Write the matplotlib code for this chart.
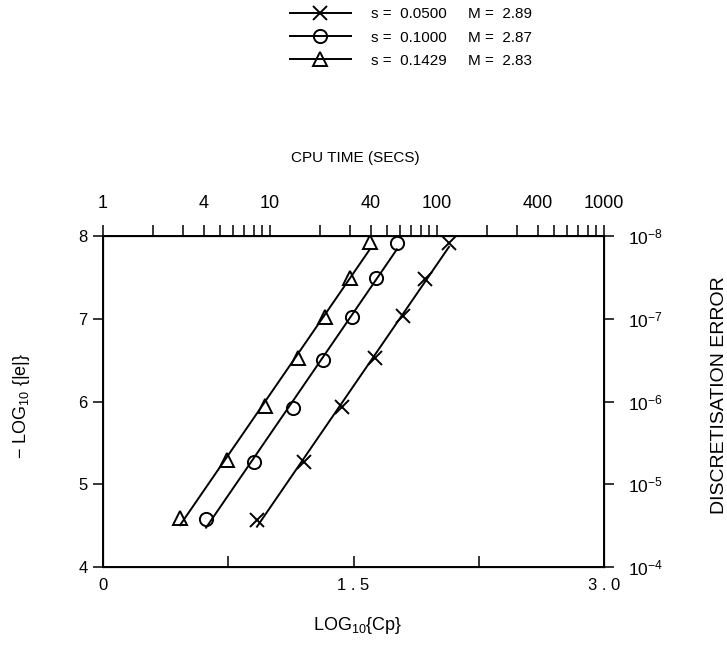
import numpy as np
import matplotlib
matplotlib.use('Agg')
from matplotlib import pyplot as plt
from matplotlib.lines import Line2D
from matplotlib.ticker import FixedLocator, LogLocator, NullFormatter

plt.rcParams['font.family'] = ['Liberation Sans', 'DejaVu Sans']
plt.rcParams['mathtext.fontset'] = 'custom'
plt.rcParams['mathtext.rm'] = 'Liberation Sans'
plt.rcParams['mathtext.it'] = 'Liberation Sans'

########################################################################
# Data: LOG10(Cp) against -LOG10(|e|) for three values of s
########################################################################

s_values = ['0.0500', '0.1000', '0.1429']
m_values = ['2.89', '2.87', '2.83']

logcp_s1 = [0.922, 1.204, 1.431, 1.629, 1.796, 1.928, 2.072]
err_s1 = [4.57, 5.27, 5.93, 6.53, 7.03, 7.48, 7.92]

logcp_s2 = [0.617, 0.904, 1.138, 1.317, 1.491, 1.635, 1.760]
err_s2 = [4.58, 5.27, 5.92, 6.50, 7.02, 7.49, 7.92]

logcp_s3 = [0.461, 0.743, 0.970, 1.168, 1.329, 1.479, 1.599]
err_s3 = [4.59, 5.29, 5.95, 6.53, 7.02, 7.49, 7.93]

cpu_ticks = [1, 4, 10, 40, 100, 400, 1000]
bottom_ticks = [0, 0.75, 1.5, 2.25, 3.0]
bottom_labels = ['0', '', '1 . 5', '', '3 . 0']
left_ticks = [4, 5, 6, 7, 8]
right_labels = [r'$10^{-4}$', r'$10^{-5}$', r'$10^{-6}$', r'$10^{-7}$', r'$10^{-8}$']

series = [
    (logcp_s1, err_s1, 'x', 10),
    (logcp_s2, err_s2, 'o', 9.5),
    (logcp_s3, err_s3, '^', 10),
]

########################################################################
# Plot
########################################################################

fig = plt.figure(figsize=(7.27, 6.47), dpi=100)
ax = fig.add_axes([0.1417, 0.1236, 0.6891, 0.5116])

handles = []
labels = []
for (xs, ys, mk, ms), s, m in zip(series, s_values, m_values):
    xs = np.array(xs)
    ys = np.array(ys)
    # straight line fitted through the points
    k, b = np.polyfit(xs, ys, 1)
    xl = np.array([xs.min(), xs.max()])
    ax.plot(xl, k * xl + b, color='black', lw=1.4)
    ax.plot(xs, ys, linestyle='none', marker=mk, ms=ms, mfc='none',
            mec='black', mew=1.4)
    handles.append(Line2D([], [], color='black', lw=1.4, marker=mk, ms=ms,
                          mfc='none', mec='black', mew=1.4))
    labels.append('s =  ' + s + '     M =  ' + m)

ax.set_xlim(0, 3)
ax.set_ylim(4, 8)
ax.set_xticks(bottom_ticks)
ax.set_xticklabels(bottom_labels)
ax.set_yticks(left_ticks)
ax.tick_params(axis='x', direction='in', length=8, width=1.1, labelsize=12, pad=8)
ax.tick_params(axis='y', direction='out', length=7, width=1.1, labelsize=12, pad=4)
for sp in ax.spines.values():
    sp.set_linewidth(1.4)

# top axis: CPU time on a log scale
ax_top = ax.twiny()
ax_top.set_xscale('log')
ax_top.set_xlim(1, 1000)
ax_top.xaxis.set_major_locator(FixedLocator(cpu_ticks))
ax_top.set_xticklabels([str(t) for t in cpu_ticks])
ax_top.xaxis.set_minor_locator(LogLocator(base=10, subs=np.arange(2, 10)))
ax_top.xaxis.set_minor_formatter(NullFormatter())
ax_top.tick_params(axis='x', which='both', direction='out', length=8,
                   width=1.1, labelsize=13, pad=9)

# right axis: discretisation error
ax_r = ax.twinx()
ax_r.set_ylim(4, 8)
ax_r.set_yticks(left_ticks)
ax_r.set_yticklabels(right_labels)
ax_r.tick_params(axis='y', direction='out', length=7, width=1.1, labelsize=12.5, pad=10)

fig.text(355 / 727, 1 - 158 / 647, 'CPU TIME (SECS)', ha='center', va='center', fontsize=11)
fig.text(719 / 727, 1 - 395 / 647, 'DISCRETISATION ERROR', ha='center', va='center',
         rotation=90, fontsize=14)
fig.text(22 / 727, 1 - 406 / 647, r'$-$ LOG$_{10}$ {|e|}', ha='center', va='center',
         rotation=90, fontsize=13)
fig.text(358 / 727, 1 - 625 / 647, r'LOG$_{10}${Cp}', ha='center', va='center', fontsize=13)

fig.legend(handles, labels, loc='upper center', bbox_to_anchor=(0.565, 1.005),
           frameon=False, handlelength=4, handletextpad=1.3, labelspacing=0.6,
           fontsize=11, borderpad=0.2)

plt.savefig('out.png', dpi=100)
